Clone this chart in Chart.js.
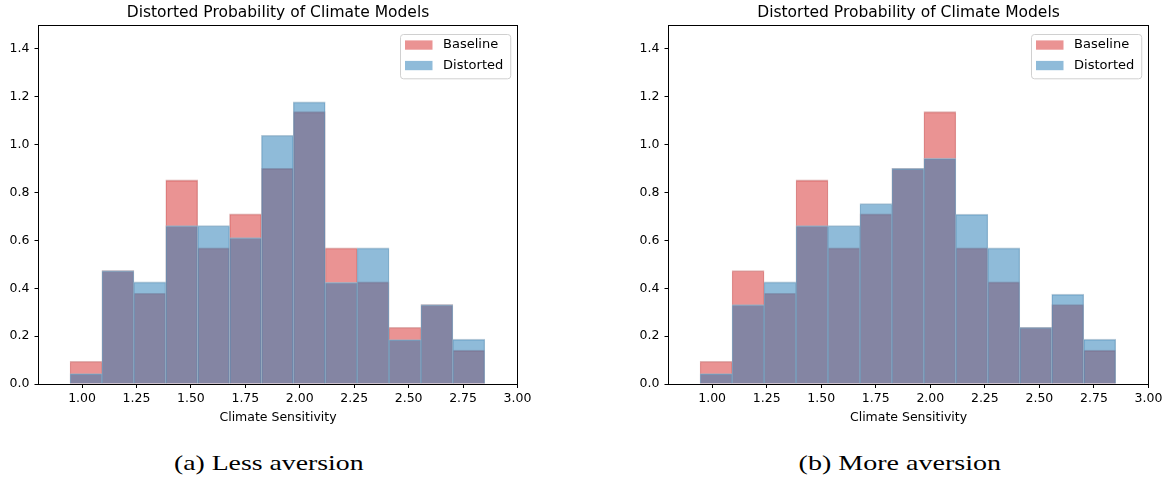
<!DOCTYPE html>
<html>
<head>
<meta charset="utf-8">
<script src="https://cdn.jsdelivr.net/npm/chart.js@4.4.1/dist/chart.umd.min.js"></script>
<style>
  html, body { margin: 0; padding: 0; background: #fff; }
  body { width: 1167px; height: 482px; position: relative; overflow: hidden; }
  canvas { position: absolute; top: 0; }
  #c1 { left: 0; }
  #c2 { left: 600px; }
  .cap {
    position: absolute; top: 453px;
    font-family: "Liberation Serif", serif; font-size: 21px; line-height: 1;
    white-space: nowrap; color: #000; transform-origin: center center;
  }
</style>
</head>
<body>
<canvas id="c1" width="560" height="440"></canvas>
<canvas id="c2" width="567" height="440"></canvas>
<div class="cap" id="capA"></div>
<div class="cap" id="capB"></div>
<script>
// Histogram bins (climate sensitivity)
const binEdges = [0.945, 1.0915, 1.238, 1.3845, 1.531, 1.6775, 1.824, 1.9705, 2.117, 2.2635, 2.41, 2.5565, 2.703, 2.8495];

// Probability density per bin
const baselineDensity       = [0.095, 0.474, 0.379, 0.853, 0.569, 0.711, 0.901, 1.138, 0.569, 0.427, 0.237, 0.332, 0.142];
const distortedLessAversion = [0.044, 0.474, 0.427, 0.662, 0.662, 0.612, 1.039, 1.179, 0.425, 0.569, 0.186, 0.332, 0.188];
const distortedMoreAversion = [0.044, 0.332, 0.427, 0.662, 0.662, 0.754, 0.901, 0.944, 0.710, 0.569, 0.237, 0.376, 0.188];

// Axis ticks and texts
const xTickValues = [1.00, 1.25, 1.50, 1.75, 2.00, 2.25, 2.50, 2.75, 3.00];
const yTickValues = [0.0, 0.2, 0.4, 0.6, 0.8, 1.0, 1.2, 1.4];
const chartTitle = 'Distorted Probability of Climate Models';
const xAxisTitle = 'Climate Sensitivity';
const seriesLabels = ['Baseline', 'Distorted'];
const captions = ['(a) Less aversion', '(b) More aversion'];

// Colours: half-transparent red / blue fills, light grey edges
const RED_FILL = 'rgba(214,39,40,0.5)';
const BLUE_FILL = 'rgba(31,119,180,0.5)';
const RED_EDGE = 'rgba(212,154,154,0.75)';
const BLUE_EDGE = 'rgba(151,180,201,0.75)';

Chart.defaults.font.family = '"DejaVu Sans", sans-serif';
Chart.defaults.color = '#000';

const binCenters = binEdges.slice(0, -1).map((e, i) => (e + binEdges[i + 1]) / 2);

// Axes box plus an in-plot legend in the upper right corner
const frameAndLegend = {
  id: 'frameAndLegend',
  afterDraw(chart) {
    const { ctx, chartArea: a } = chart;
    ctx.save();
    const l = Math.floor(a.left) + 0.5, r = Math.floor(a.right) + 0.5;
    const t = Math.floor(a.top) + 0.5, b = Math.floor(a.bottom) + 0.5;
    ctx.strokeStyle = '#000';
    ctx.lineWidth = 1;
    ctx.strokeRect(l, t, r - l, b - t);

    ctx.font = '13px "DejaVu Sans", sans-serif';
    const ds = chart.data.datasets;
    const textW = Math.max(...ds.map(d => ctx.measureText(d.label).width));
    const boxW = 42.6 + textW + 7.5;
    const boxH = 44.3;
    const x0 = Math.round(a.right - 7 - boxW) + 0.5;
    const y0 = Math.round(a.top + 9) + 0.5;
    const rad = 3;
    ctx.beginPath();
    ctx.moveTo(x0 + rad, y0);
    ctx.arcTo(x0 + boxW, y0, x0 + boxW, y0 + boxH, rad);
    ctx.arcTo(x0 + boxW, y0 + boxH, x0, y0 + boxH, rad);
    ctx.arcTo(x0, y0 + boxH, x0, y0, rad);
    ctx.arcTo(x0, y0, x0 + boxW, y0, rad);
    ctx.closePath();
    ctx.fillStyle = 'rgba(255,255,255,0.8)';
    ctx.fill();
    ctx.strokeStyle = '#d0d0d0';
    ctx.stroke();

    ds.forEach((d, i) => {
      const cy = y0 + 10.5 + i * 20.5;
      ctx.fillStyle = d.backgroundColor;
      ctx.fillRect(x0 + 4.5, cy - 4.6, 27.5, 9.3);
      ctx.fillStyle = '#000';
      ctx.textBaseline = 'middle';
      ctx.textAlign = 'left';
      ctx.fillText(d.label, x0 + 42.6, cy);
    });
    ctx.restore();
  }
};

function toPoints(values) {
  return binCenters.map((x, i) => ({ x, y: values[i] }));
}

function makeChart(canvasId, distorted, yAxisWidth, padRight) {
  const tickFont = { family: '"DejaVu Sans", sans-serif', size: 12.5 };
  const edge = { top: 1.2, left: 0.65, right: 0.65, bottom: 0 };
  return new Chart(document.getElementById(canvasId), {
    type: 'bar',
    data: {
      datasets: [
        { label: seriesLabels[0], data: toPoints(baselineDensity), backgroundColor: RED_FILL,
          borderColor: RED_EDGE, borderWidth: edge, order: 2 },
        { label: seriesLabels[1], data: toPoints(distorted), backgroundColor: BLUE_FILL,
          borderColor: BLUE_EDGE, borderWidth: edge, order: 1 }
      ]
    },
    options: {
      responsive: false,
      animation: false,
      events: [],
      layout: { padding: { left: 0, right: padRight, top: 0, bottom: 0 } },
      datasets: { bar: { grouped: false, barPercentage: 1, categoryPercentage: 1 } },
      scales: {
        x: {
          type: 'linear', min: 0.8, max: 3.0, offset: false,
          grid: { display: true, offset: false, drawOnChartArea: false, drawTicks: true,
                  tickLength: 4, tickColor: '#000', tickWidth: 1 },
          border: { display: false },
          afterBuildTicks: s => { s.ticks = xTickValues.map(v => ({ value: v })); },
          afterFit: s => { s.height = 56; },
          ticks: { font: tickFont, padding: 3, maxRotation: 0, autoSkip: false,
                   callback: v => Number(v).toFixed(2) },
          title: { display: true, text: xAxisTitle, font: tickFont, padding: { top: 0, bottom: 14.5 } }
        },
        y: {
          min: 0, max: 1.5,
          grid: { display: true, drawOnChartArea: false, drawTicks: true,
                  tickLength: 4, tickColor: '#000', tickWidth: 1 },
          border: { display: false },
          afterBuildTicks: s => { s.ticks = yTickValues.map(v => ({ value: v })); },
          afterFit: s => { s.width = yAxisWidth; },
          ticks: { font: tickFont, padding: 5, autoSkip: false,
                   callback: v => Number(v).toFixed(1) }
        }
      },
      plugins: {
        legend: { display: false },
        tooltip: { enabled: false },
        title: {
          display: true, text: chartTitle, fullSize: false, color: '#000',
          font: { family: '"DejaVu Sans", sans-serif', size: 15.5, weight: 'normal', lineHeight: '19px' },
          padding: { top: 3, bottom: 3 }
        }
      }
    },
    plugins: [frameAndLegend]
  });
}

makeChart('c1', distortedLessAversion, 38.5, 42.5);
makeChart('c2', distortedMoreAversion, 68.5, 18.5);

// Sub-figure captions
function placeCaption(id, text, centerX, targetWidth) {
  const el = document.getElementById(id);
  el.textContent = text;
  const w = el.offsetWidth;
  el.style.left = (centerX - w / 2) + 'px';
  el.style.transform = 'scaleX(' + (targetWidth / w) + ')';
}
placeCaption('capA', captions[0], 268.7, 189);
placeCaption('capB', captions[1], 900, 203);
</script>
</body>
</html>
